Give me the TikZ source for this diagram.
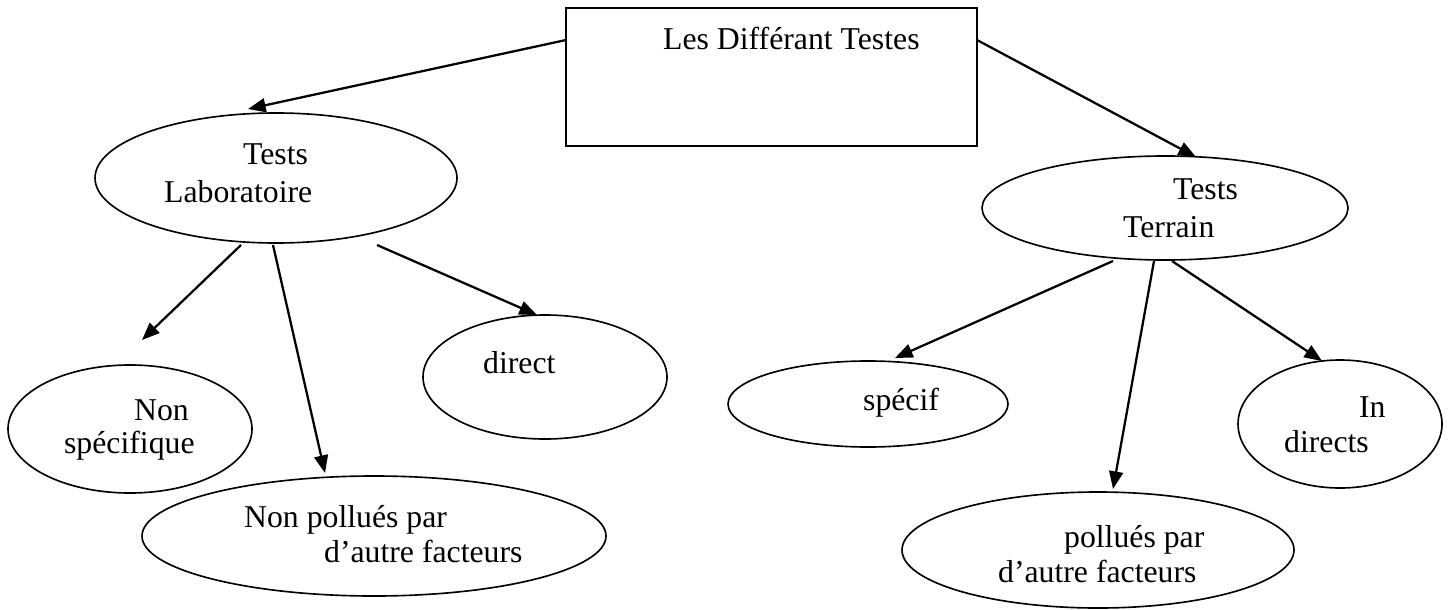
\documentclass[tikz,border=0pt]{standalone}
\usepackage{fontspec}
\setmainfont{Liberation Serif}
\usetikzlibrary{arrows.meta}
\usetikzlibrary{shapes.geometric}
\providecommand*{\pgfmathsetnewmacro}[2]{%
    \newcommand*{#1}{}% Error if already defined
    \pgfmathsetmacro{#1}{#2}%
}

\begin{document}
\begin{tikzpicture}[x=0.01395cm, y=-0.01395cm, black, line width = 0.9pt,
    oval/.style = {ellipse, draw, inner sep=0pt, line width=0.65pt},
    txt/.style = {inner sep=0pt, anchor=base west, font=\fontsize{12.6}{15}\selectfont},
    arr/.style = {-{Triangle[length=7pt, width=5.5pt]}}]

\pgfmathsetnewmacro{\pxs}{0.01395}
\useasboundingbox (0,0) rectangle (1453,609);


\node [draw, inner sep=0pt, line width=0.8pt,
       minimum width=411*\pxs cm,
       minimum height=138*\pxs cm] (top) at (771.5,77) {};


\foreach \NAME/\X/\Y/\RX/\RY in {
                        labo/276/178/181/65,
                        terrain/1165/208/183/52,
                        nonspec/130/429/122/64,
                        nonpol/374/536/232/60,
                        direct/545/377/122/62,
                        specif/868/404/140/43,
                        poll/1098/550/196/58,
                        indir/1340/424/102/64}{
    \node [oval,
           minimum width=2*\RX*\pxs cm,
           minimum height=2*\RY*\pxs cm] (\NAME) at (\X,\Y) {};
    };


\node [txt] (t-top)   at (662,50)  {Les Différant Testes};
\node [txt] (t-labo1) at (242,164) {Tests};
\node [txt] (t-labo2) at (163,202) {Laboratoire};
\node [txt] (t-terr1) at (1172,200) {Tests};
\node [txt] (t-terr2) at (1122,237) {Terrain};
\node [txt] (t-nsp1)  at (133,420) {Non};
\node [txt] (t-nsp2)  at (63,453)  {spécifique};
\node [txt] (t-npo1)  at (243,527) {Non pollués par};
\node [txt] (t-npo2)  at (323,562) {d’autre facteurs};
\node [txt] (t-dir)   at (482,373) {direct};
\node [txt] (t-spe)   at (862,410) {spécif};
\node [txt] (t-ind1)  at (1358,417) {In};
\node [txt] (t-ind2)  at (1283,452) {directs};
\node [txt] (t-pol1)  at (1063,547) {pollués par};
\node [txt] (t-pol2)  at (997,582)  {d’autre facteurs};


\coordinate (top-l)   at (566,40);
\coordinate (top-r)   at (977,40);
\coordinate (labo-a)  at (241,245);
\coordinate (labo-b)  at (273,245);
\coordinate (labo-c)  at (377,245);
\coordinate (terr-a)  at (1113,261);
\coordinate (terr-b)  at (1154,261);
\coordinate (terr-c)  at (1172,261);
\coordinate (labo-in)    at (248,109);
\coordinate (terrain-in) at (1196,157);
\coordinate (nonspec-in) at (142,340);
\coordinate (nonpol-in)  at (325,473);
\coordinate (direct-in)  at (537,315);
\coordinate (specif-in)  at (895,358);
\coordinate (poll-in)    at (1113,489);
\coordinate (indir-in)   at (1322,361);

\foreach \FROM/\TO in {
                        top-l/labo-in,
                        top-r/terrain-in,
                        labo-a/nonspec-in,
                        labo-b/nonpol-in,
                        labo-c/direct-in,
                        terr-a/specif-in,
                        terr-b/poll-in,
                        terr-c/indir-in}{
    \draw[arr] (\FROM) -- (\TO);
    };

\end{tikzpicture}
\end{document}
